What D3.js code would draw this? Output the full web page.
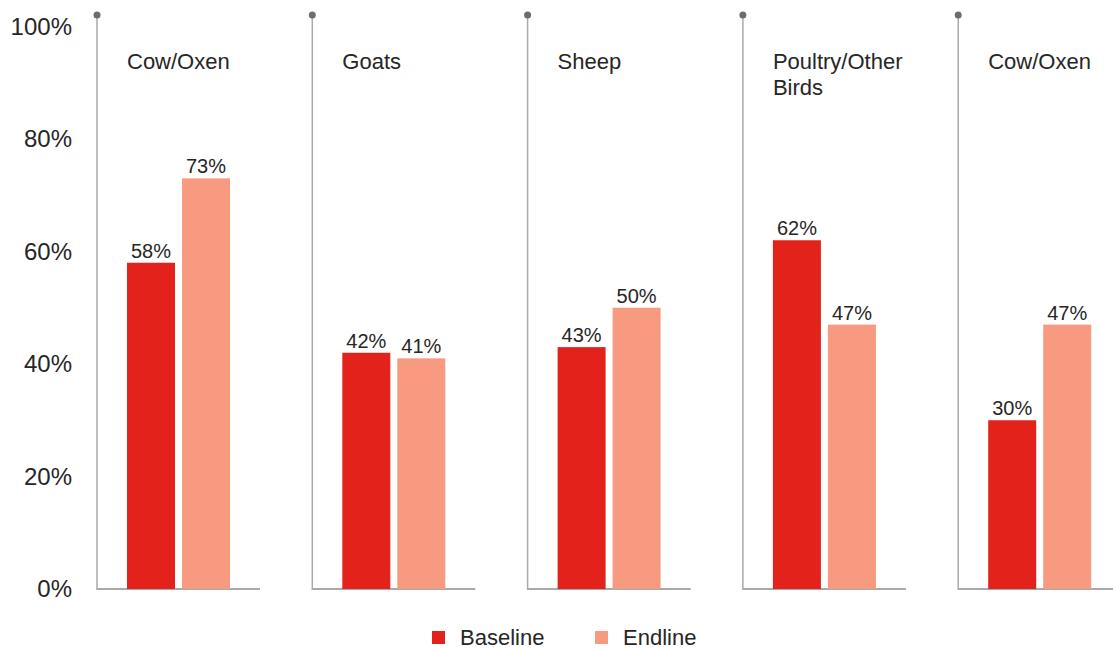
<!DOCTYPE html>
<html>
<head>
<meta charset="utf-8">
<script src="https://cdn.jsdelivr.net/npm/d3@7"></script>
<style>
  html, body { margin: 0; padding: 0; background: #fff; }
  svg { display: block; font-family: "Liberation Sans", Arial, sans-serif; }
</style>
</head>
<body>
<svg id="chart" width="1113" height="650"></svg>
<script>
const categories = ['Cow/Oxen', 'Goats', 'Sheep', 'Poultry/Other Birds', 'Cow/Oxen'];
const baselineValues = [58, 42, 43, 62, 30];
const endlineValues = [73, 41, 50, 47, 47];
const seriesNames = ['Baseline', 'Endline'];
const yTicks = [0, 20, 40, 60, 80, 100];

const colors = { Baseline: '#e3231b', Endline: '#f79a80' };
const textColor = '#262626';
const lineColor = '#a9a9a9';

const plotTop = 26.5;
const plotBottom = 589;
const panelLeft = 97;
const panelStep = 215.3;

const svg = d3.select('#chart');

const y = d3.scaleLinear().domain([0, 100]).range([plotBottom, plotTop]);

// panels
const panel = d3.scaleBand()
  .domain(d3.range(categories.length))
  .range([panelLeft, panelLeft + panelStep * categories.length])
  .padding(0);

// bars inside a panel
const inner = d3.scaleBand()
  .domain(seriesNames)
  .range([30, 133])
  .paddingInner(7 / 55)
  .paddingOuter(0);

// y axis labels
const yAxis = d3.axisLeft(y)
  .tickValues(yTicks)
  .tickSize(0)
  .tickPadding(25)
  .tickFormat(d => d + '%');

const gy = svg.append('g')
  .attr('transform', `translate(${panelLeft},0)`)
  .call(yAxis);
gy.select('.domain').remove();
gy.selectAll('text')
  .attr('fill', textColor)
  .style('font-size', '24px')
  .style('font-family', '"Liberation Sans", Arial, sans-serif');

const rows = categories.map((c, i) => ({
  i,
  name: c,
  values: [
    { key: 'Baseline', value: baselineValues[i] },
    { key: 'Endline', value: endlineValues[i] }
  ]
}));

const panels = svg.selectAll('g.panel')
  .data(rows)
  .join('g')
  .attr('class', 'panel')
  .attr('transform', d => `translate(${panel(d.i)},0)`);

// baseline of each panel
panels.append('line')
  .attr('x1', 0)
  .attr('x2', 163)
  .attr('y1', y(0))
  .attr('y2', y(0))
  .attr('stroke', lineColor)
  .attr('stroke-width', 2);

// vertical line with dot
panels.append('line')
  .attr('x1', 0)
  .attr('x2', 0)
  .attr('y1', 15)
  .attr('y2', y(0) + 1)
  .attr('stroke', lineColor)
  .attr('stroke-width', 1.5);

panels.append('circle')
  .attr('cx', 0)
  .attr('cy', 15)
  .attr('r', 3.5)
  .attr('fill', '#6b6b70');

// bars
panels.selectAll('rect.bar')
  .data(d => d.values)
  .join('rect')
  .attr('class', 'bar')
  .attr('x', d => inner(d.key))
  .attr('width', inner.bandwidth())
  .attr('y', d => y(d.value))
  .attr('height', d => y(0) - y(d.value))
  .attr('fill', d => colors[d.key]);

// value labels
panels.selectAll('text.value')
  .data(d => d.values)
  .join('text')
  .attr('class', 'value')
  .attr('x', d => inner(d.key) + inner.bandwidth() / 2)
  .attr('y', d => y(d.value) - 5)
  .attr('text-anchor', 'middle')
  .attr('fill', textColor)
  .style('font-size', '20px')
  .text(d => d.value + '%');

// category titles (wrapped)
panels.each(function(d) {
  const g = d3.select(this);
  const t = g.append('text')
    .attr('x', 30)
    .attr('y', 69)
    .attr('fill', textColor)
    .style('font-size', '22px');
  const words = d.name.split(' ');
  let line = [];
  let tspan = t.append('tspan').attr('x', 30).attr('dy', 0);
  words.forEach(w => {
    line.push(w);
    tspan.text(line.join(' '));
    if (tspan.node().getComputedTextLength() > 150 && line.length > 1) {
      line.pop();
      tspan.text(line.join(' '));
      line = [w];
      tspan = t.append('tspan').attr('x', 30).attr('dy', 26).text(w);
    }
  });
});

// legend
const legendX = [432, 595];
const legend = svg.selectAll('g.legend')
  .data(seriesNames)
  .join('g')
  .attr('class', 'legend')
  .attr('transform', (d, i) => `translate(${legendX[i]},631)`);

legend.append('rect')
  .attr('width', 13)
  .attr('height', 13)
  .attr('fill', d => colors[d]);

legend.append('text')
  .attr('x', 28)
  .attr('y', 14)
  .attr('fill', textColor)
  .style('font-size', '22px')
  .text(d => d);
</script>
</body>
</html>
